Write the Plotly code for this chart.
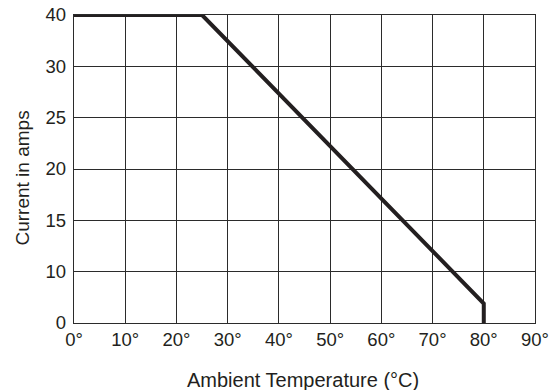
import numpy as np
import plotly.graph_objects as go

# Data
temps = [0, 25, 80, 80]          # ambient temperature (°C)
amps = [40, 40, 3.8, 0]          # current in amps

x_tick_vals = [0, 10, 20, 30, 40, 50, 60, 70, 80, 90]
x_tick_text = ["0°", "10°", "20°", "30°", "40°", "50°", "60°", "70°", "80°", "90°"]
y_tick_vals = [0, 10, 15, 20, 25, 30, 40]   # evenly spaced (non-linear) current scale
y_tick_text = ["0", "10", "15", "20", "25", "30", "40"]

# The chart's current axis is non-linear: each labelled value sits on an equally spaced gridline
y_index = list(range(len(y_tick_vals)))
amps_pos = np.interp(amps, y_tick_vals, y_index)

ink = "#231f20"
font_family = "Liberation Sans, Arial, Helvetica, sans-serif"

fig = go.Figure()
fig.add_trace(go.Scatter(
    x=temps, y=amps_pos, mode="lines",
    line=dict(color=ink, width=4),
    cliponaxis=False, showlegend=False, hoverinfo="skip",
))

fig.update_layout(
    width=553, height=390,
    margin=dict(l=74, r=18, t=15, b=67, autoexpand=False),
    paper_bgcolor="white", plot_bgcolor="white",
    font=dict(family=font_family, size=18, color=ink),
    xaxis=dict(
        range=[0, 90], tickvals=x_tick_vals, ticktext=x_tick_text,
        showgrid=True, gridcolor="#2b2b2b", gridwidth=1.2,
        showline=True, linecolor="#2b2b2b", linewidth=1.3, mirror=True,
        zeroline=False, ticks="", tickfont=dict(size=18.5, color=ink),
        fixedrange=True, automargin=False,
    ),
    yaxis=dict(
        range=[0, len(y_tick_vals) - 1], tickvals=y_index, ticktext=y_tick_text,
        showgrid=True, gridcolor="#2b2b2b", gridwidth=1.2,
        showline=True, linecolor="#2b2b2b", linewidth=1.3, mirror=True,
        zeroline=False, ticks="", tickfont=dict(size=18.5, color=ink),
        ticklabelstandoff=3,
        fixedrange=True, automargin=False,
    ),
    annotations=[
        dict(text="Ambient Temperature (°C)", xref="paper", yref="paper",
             x=0.496, y=-0.185, yanchor="middle", xanchor="center", showarrow=False,
             font=dict(size=20, color=ink, family=font_family)),
        dict(text="Current in amps", xref="paper", yref="paper",
             x=-0.1115, y=0.471, xanchor="center", yanchor="middle", textangle=-90,
             showarrow=False, font=dict(size=19, color=ink, family=font_family)),
    ],
)

fig.write_html("out.html", config={"displayModeBar": False},
               post_script="document.body.style.margin='0';document.body.style.padding='0';")
